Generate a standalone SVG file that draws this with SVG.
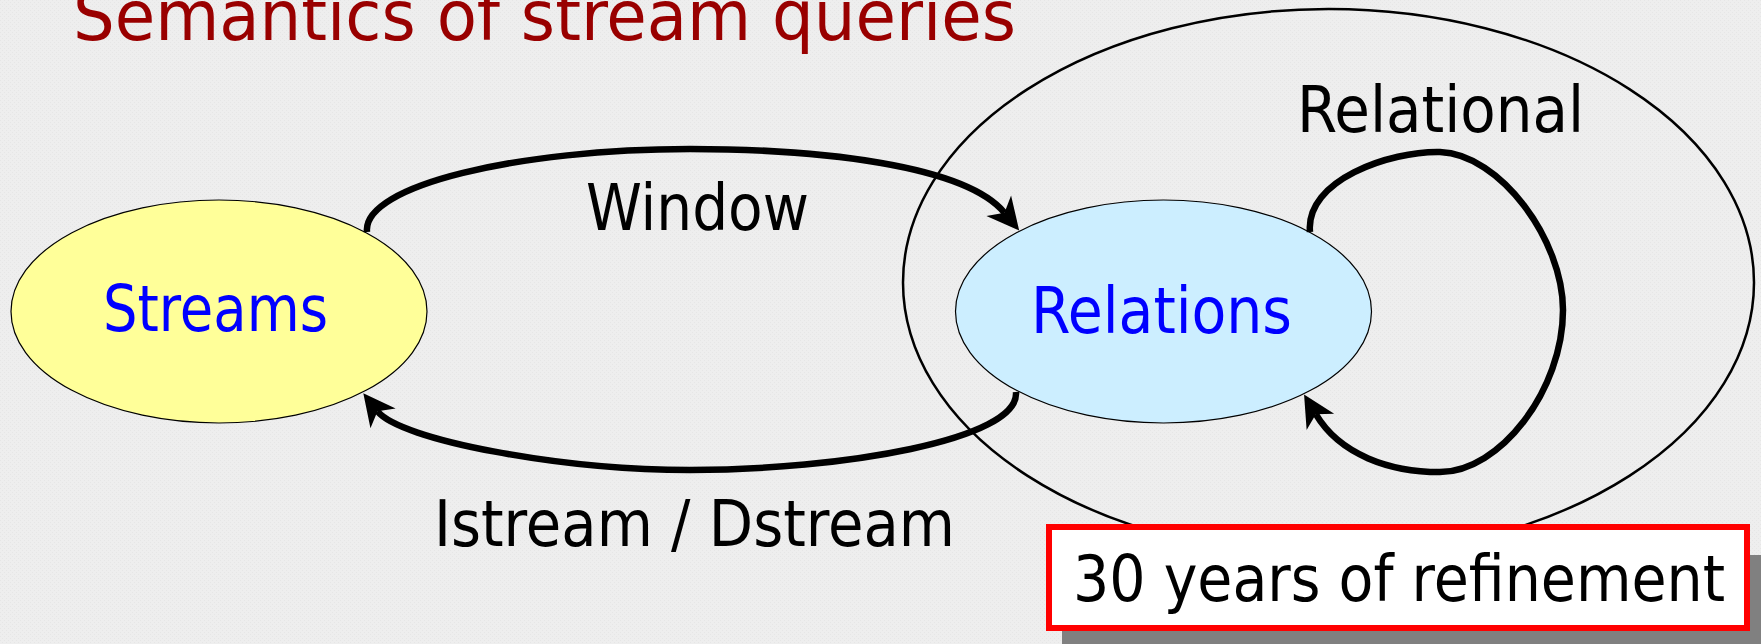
<svg xmlns="http://www.w3.org/2000/svg" width="1761" height="644" viewBox="0 0 1761 644">
<style>
text{font-family:"DejaVu Sans Condensed","DejaVu Sans",sans-serif}
.lbl{font-size:64px;fill:#000}
.nodetxt{font-size:64px;fill:#0000ff}
.title{font-size:69px;fill:#990000}
.node{stroke:#000;stroke-width:1.2}
.conn{fill:none;stroke:#000;stroke-width:6.5;marker-end:url(#ah)}
</style>
<defs>
<pattern id="bg" width="4" height="4" patternUnits="userSpaceOnUse">
<rect width="4" height="4" fill="#eeeeee"/>
<rect x="0" y="0" width="1" height="1" fill="#e6e6e6"/>
<rect x="2" y="2" width="1" height="1" fill="#e6e6e6"/>
</pattern>
<marker id="ah" markerUnits="userSpaceOnUse" markerWidth="40" markerHeight="40" viewBox="-12 -20 40 40" refX="0" refY="0" orient="auto">
<path d="M23,0 L-9,-16 L0,0 L-9,16 Z" fill="#000"/>
</marker>
</defs>
<rect width="1761" height="644" fill="url(#bg)"/>
<text class="title" x="73" y="40" textLength="943" lengthAdjust="spacingAndGlyphs">Semantics of stream queries</text>
<g id="relational-scope">
<ellipse cx="1328.5" cy="282.5" rx="425.5" ry="273.5" fill="none" stroke="#000" stroke-width="2.5"/>
<text class="lbl" x="1297" y="132" textLength="287" lengthAdjust="spacingAndGlyphs">Relational</text>
</g>
<g id="streams">
<ellipse class="node" cx="219" cy="311.5" rx="208" ry="111.5" fill="#ffff99"/>
<text class="nodetxt" x="103" y="331" textLength="225" lengthAdjust="spacingAndGlyphs">Streams</text>
</g>
<g id="relations">
<ellipse class="node" cx="1163.5" cy="311.5" rx="208" ry="111.5" fill="#cceeff"/>
<text class="nodetxt" x="1031" y="333" textLength="261" lengthAdjust="spacingAndGlyphs">Relations</text>
</g>
<g id="connectors">
<path class="conn" d="M367,232 C362,185 520,149 690,149 C820,149 965,165 1004.5,212.7"/>
<path class="conn" d="M1016,392 C1020,440 840,470 690,470 C560,470 400,440 377.5,411.3"/>
<path class="conn" d="M1310,232 C1305,180 1390,151 1440,152 C1500,154 1563,240 1563,310 C1563,390 1500,472 1440,472 C1390,472 1340,455 1315.8,414.2"/>
<text class="lbl" x="586" y="230" textLength="223" lengthAdjust="spacingAndGlyphs">Window</text>
<text class="lbl" x="434" y="546" textLength="521" lengthAdjust="spacingAndGlyphs">Istream / Dstream</text>
</g>
<g id="note">
<rect x="1062" y="555" width="720" height="100" fill="#808080"/>
<rect x="1049" y="527" width="698" height="101" fill="#ffffff" stroke="#ff0000" stroke-width="6"/>
<text class="lbl" x="1073" y="601" textLength="652" lengthAdjust="spacingAndGlyphs">30 years of refinement</text>
</g>
</svg>
